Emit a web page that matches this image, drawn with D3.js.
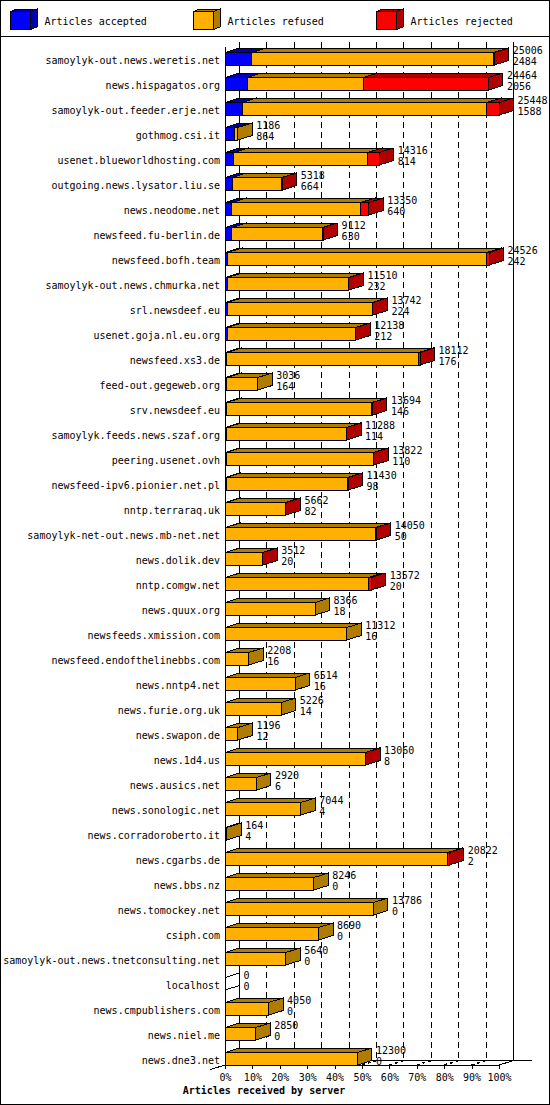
<!DOCTYPE html>
<html>
<head>
<meta charset="utf-8">
<script src="https://cdn.jsdelivr.net/npm/d3@7"></script>
<style>
  body { margin: 0; background: #fff; }
  text { font-family: "DejaVu Sans Mono", monospace; font-size: 10px; fill: #000; }
</style>
</head>
<body>
<script>
// hosts, top to bottom
var hosts = [
  "samoylyk-out.news.weretis.net", "news.hispagatos.org", "samoylyk-out.feeder.erje.net",
  "gothmog.csi.it", "usenet.blueworldhosting.com", "outgoing.news.lysator.liu.se",
  "news.neodome.net", "newsfeed.fu-berlin.de", "newsfeed.bofh.team",
  "samoylyk-out.news.chmurka.net", "srl.newsdeef.eu", "usenet.goja.nl.eu.org",
  "newsfeed.xs3.de", "feed-out.gegeweb.org", "srv.newsdeef.eu",
  "samoylyk.feeds.news.szaf.org", "peering.usenet.ovh", "newsfeed-ipv6.pionier.net.pl",
  "nntp.terraraq.uk", "samoylyk-net-out.news.mb-net.net", "news.dolik.dev",
  "nntp.comgw.net", "news.quux.org", "newsfeeds.xmission.com",
  "newsfeed.endofthelinebbs.com", "news.nntp4.net", "news.furie.org.uk",
  "news.swapon.de", "news.1d4.us", "news.ausics.net",
  "news.sonologic.net", "news.corradoroberto.it", "news.cgarbs.de",
  "news.bbs.nz", "news.tomockey.net", "csiph.com",
  "samoylyk-out.news.tnetconsulting.net", "localhost", "news.cmpublishers.com",
  "news.niel.me", "news.dne3.net"
];

// total articles received (first number next to each bar)
var received = [25006, 24464, 25448, 1186, 14316, 5318, 13350, 9112, 24526, 11510,
  13742, 12138, 18112, 3036, 13694, 11288, 13822, 11430, 5662, 14050,
  3512, 13572, 8366, 11312, 2208, 6514, 5226, 1196, 13060, 2920,
  7044, 164, 20822, 8246, 13786, 8690, 5640, 0, 4050, 2850, 12300];

// accepted (second number)
var accepted = [2484, 2056, 1588, 864, 814, 664, 640, 630, 242, 232,
  224, 212, 176, 164, 146, 114, 110, 98, 82, 50,
  20, 20, 18, 16, 16, 16, 14, 12, 8, 6,
  4, 4, 2, 0, 0, 0, 0, 0, 0, 0, 0];

// refused and rejected
var refused = [22472, 10789, 22717, 322, 12440, 4614, 11963, 8422, 24084, 11228,
  13458, 11876, 17836, 2872, 13488, 11124, 13652, 11252, 5540, 13940,
  3462, 13302, 8348, 11296, 2192, 6498, 5212, 1184, 13002, 2914,
  7040, 160, 20700, 8246, 13786, 8690, 5640, 0, 4050, 2850, 12300];

var rejected = [50, 11619, 1143, 0, 1062, 40, 747, 60, 200, 50,
  60, 50, 100, 0, 60, 50, 60, 80, 40, 60,
  30, 250, 0, 0, 0, 0, 0, 0, 50, 0,
  0, 0, 120, 0, 0, 0, 0, 0, 0, 0, 0];

var seriesNames = ["Articles accepted", "Articles refused", "Articles rejected"];
var seriesColors = ["#0000ff", "#ffb000", "#ff0000"];
var seriesShade = ["#0000b0", "#b07c00", "#b00000"];

var pctTicks = [0, 10, 20, 30, 40, 50, 60, 70, 80, 90, 100];

var w = 550, h = 1105;
var dx = 14.5, dy = 4.5; // depth of the 3d boxes

var svg = d3.select("body").append("svg")
  .attr("width", w)
  .attr("height", h);

svg.append("rect")
  .attr("x", 0.5).attr("y", 0.5)
  .attr("width", w - 1).attr("height", h - 1)
  .style("fill", "#fff").style("stroke", "#000")
  .style("shape-rendering", "crispEdges");

// legend strip
svg.append("line")
  .attr("x1", 0).attr("x2", w).attr("y1", 36.5).attr("y2", 36.5)
  .style("stroke", "#000").style("shape-rendering", "crispEdges");

function box(g, x1, x2, t, b, d1, d2, fill, dark) {
  var pts = [
    [[x1, t], [x2, t], [x2, b], [x1, b]],
    [[x1, t], [x1 + d1, t - d2], [x2 + d1, t - d2], [x2, t]],
    [[x2, t], [x2 + d1, t - d2], [x2 + d1, b - d2], [x2, b]]
  ];
  g.selectAll(null)
    .data(pts)
    .enter()
    .append("polygon")
    .attr("points", function(p){ return p.map(function(q){ return q.join(","); }).join(" "); })
    .style("fill", function(p, i){ return i == 0 ? fill : dark; })
    .style("stroke", "#000")
    .style("stroke-width", 1)
    .style("stroke-linejoin", "miter");
}

var legendX = [10.5, 193.5, 376.5];
var legend = svg.append("g").style("shape-rendering", "crispEdges");
seriesNames.forEach(function(name, i){
  box(legend, legendX[i], legendX[i] + 20, 11.5, 29.5, 6.5, 2.5, seriesColors[i], seriesShade[i]);
  legend.append("text")
    .attr("x", legendX[i] + 34)
    .attr("y", 25)
    .text(name);
});

// scales
var maxTotal = d3.max(received);
var x = d3.scaleLinear().domain([0, maxTotal]).range([225, 499]);
var xPct = d3.scaleLinear().domain([0, 100]).range([225, 499]);
var y = d3.scaleBand().domain(hosts).range([47.5, 1072.5]);

var x0 = x(0), x100 = xPct(100);
var floorY = 1065;

// back wall and grid
var grid = svg.append("g").style("shape-rendering", "crispEdges");
grid.append("line")
  .attr("x1", x0 + dx).attr("x2", x0 + dx).attr("y1", 42).attr("y2", floorY - dy)
  .style("stroke", "#000");
grid.append("line")
  .attr("x1", x100 + dx).attr("x2", x100 + dx).attr("y1", 42).attr("y2", floorY - dy)
  .style("stroke", "#000");
grid.selectAll(".gridline")
  .data(pctTicks.slice(1, -1))
  .enter()
  .append("line")
  .attr("class", "gridline")
  .attr("x1", function(d){ return xPct(d) + dx; })
  .attr("x2", function(d){ return xPct(d) + dx; })
  .attr("y1", 42)
  .attr("y2", floorY - dy)
  .style("stroke", "#000")
  .style("stroke-dasharray", "6,4");
grid.selectAll(".floortick")
  .data(pctTicks.slice(1, -1))
  .enter()
  .append("line")
  .attr("class", "floortick")
  .attr("x1", function(d){ return xPct(d); })
  .attr("x2", function(d){ return xPct(d) + dx; })
  .attr("y1", floorY)
  .attr("y2", floorY - dy)
  .style("stroke", "#000")
  .style("stroke-width", 1.5)
  .style("stroke-dasharray", "3,3");

// floor
grid.append("line")
  .attr("x1", x0 + dx).attr("x2", 532).attr("y1", floorY - dy).attr("y2", floorY - dy)
  .style("stroke", "#000");
grid.append("line")
  .attr("x1", x100).attr("x2", x100 + dx).attr("y1", floorY).attr("y2", floorY - dy)
  .style("stroke", "#000");
grid.append("line")
  .attr("x1", x0 - dx).attr("x2", x0).attr("y1", floorY + dy).attr("y2", floorY)
  .style("stroke", "#000");
grid.append("line")
  .attr("x1", x0).attr("x2", x0).attr("y1", 47).attr("y2", floorY)
  .style("stroke", "#000");

// x axis along the front
var xAxis = d3.axisBottom(xPct)
  .tickValues(pctTicks)
  .tickFormat(function(d){ return d + "%"; })
  .tickSize(4)
  .tickPadding(5);

var axis = svg.append("g")
  .attr("transform", "translate(0," + floorY + ")")
  .call(xAxis);
axis.select(".domain")
  .attr("d", "M" + x0 + ",0H" + x100)
  .style("shape-rendering", "crispEdges");
axis.selectAll(".tick line").style("shape-rendering", "crispEdges");
axis.selectAll("text")
  .style("font-family", "'DejaVu Sans Mono', monospace")
  .style("font-size", "10px");

// bars
var rows = hosts.map(function(host, i){
  return {
    host: host,
    total: received[i],
    acc: accepted[i],
    segs: [accepted[i], refused[i], rejected[i]]
  };
});

var bars = svg.append("g").style("shape-rendering", "crispEdges");
rows.forEach(function(r){
  var t = y(r.host) + 5, b = y(r.host) + 17.5;
  var g = bars.append("g");
  var start = 0;
  if (r.total == 0) {
    g.append("polygon")
      .attr("points", [[x0, t], [x0 + dx, t - dy], [x0 + dx, b - dy], [x0, b]].map(function(q){ return q.join(","); }).join(" "))
      .style("fill", "none")
      .style("stroke", "#000");
  }
  r.segs.forEach(function(v, k){
    if (v <= 0) return;
    box(g, x(start), x(start + v), t, b, dx, dy, seriesColors[k], seriesShade[k]);
    start += v;
  });
});

// host labels
svg.selectAll(".hostLabel")
  .data(rows)
  .enter()
  .append("text")
  .attr("class", "hostLabel")
  .attr("x", 220)
  .attr("y", function(d){ return y(d.host) + 16.5; })
  .attr("text-anchor", "end")
  .text(function(d){ return d.host; });

// value labels (received / accepted)
var vals = svg.selectAll(".valLabel")
  .data(rows)
  .enter()
  .append("text")
  .attr("class", "valLabel");
vals.append("tspan")
  .attr("x", function(d){ return x(d.total) + dx + 4; })
  .attr("y", function(d){ return y(d.host) + 6; })
  .text(function(d){ return d.total; });
vals.append("tspan")
  .attr("x", function(d){ return x(d.total) + dx + 4; })
  .attr("y", function(d){ return y(d.host) + 17; })
  .text(function(d){ return d.acc; });

svg.append("text")
  .attr("x", 264)
  .attr("y", 1094)
  .attr("text-anchor", "middle")
  .style("font-weight", "bold")
  .text("Articles received by server");
</script>
</body>
</html>
